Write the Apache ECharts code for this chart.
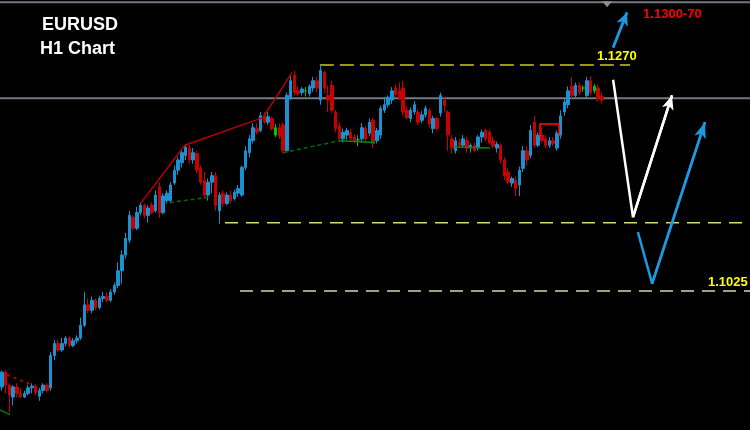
<!DOCTYPE html>
<html>
<head>
<meta charset="utf-8">
<script src="https://cdn.jsdelivr.net/npm/echarts@6/dist/echarts.min.js"></script>
<style>
html,body{margin:0;padding:0;background:#000;}
#c{width:750px;height:430px;}
</style>
</head>
<body>
<div id="c"></div>
<script>
// H1 candles: [open, close, low, high]
const candles = [
[1.0921,1.0937,1.0917,1.0939],[1.0937,1.0923,1.0914,1.0939],[1.0923,1.0912,1.0893,1.0925],[1.0910,1.0921,1.0901,1.0923],
[1.0921,1.0914,1.0910,1.0925],[1.0914,1.0910,1.0909,1.0920],[1.0910,1.0914,1.0909,1.0917],[1.0914,1.0920,1.0912,1.0923],
[1.0920,1.0922,1.0914,1.0925],[1.0922,1.0915,1.0912,1.0924],[1.0911,1.0917,1.0906,1.0920],[1.0917,1.0923,1.0914,1.0925],
[1.0923,1.0917,1.0915,1.0925],[1.0920,1.0955,1.0917,1.0959],[1.0955,1.0968,1.0950,1.0972],[1.0968,1.0961,1.0959,1.0972],
[1.0961,1.0968,1.0959,1.0974],[1.0968,1.0974,1.0965,1.0976],[1.0974,1.0966,1.0964,1.0976],[1.0966,1.0971,1.0964,1.0974],
[1.0971,1.0974,1.0968,1.0977],[1.0974,1.0988,1.0972,1.0996],[1.0988,1.1010,1.0986,1.1024],[1.1010,1.1004,1.1001,1.1017],
[1.1004,1.1015,1.1001,1.1019],[1.1015,1.1007,1.1004,1.1017],[1.1007,1.1017,1.1005,1.1020],[1.1017,1.1019,1.1013,1.1024],
[1.1019,1.1015,1.1013,1.1024],[1.1015,1.1024,1.1013,1.1027],[1.1024,1.1031,1.1021,1.1034],[1.1031,1.1047,1.1028,1.1056],
[1.1047,1.1064,1.1033,1.1069],[1.1064,1.1082,1.1060,1.1088],[1.1080,1.1107,1.1077,1.1112],[1.1105,1.1093,1.1090,1.1107],
[1.1093,1.1110,1.1091,1.1116],[1.1110,1.1118,1.1107,1.1121],[1.1118,1.1107,1.1104,1.1120],[1.1107,1.1115,1.1099,1.1118],
[1.1118,1.1110,1.1108,1.1121],[1.1112,1.1129,1.1110,1.1134],[1.1138,1.1110,1.1104,1.1143],[1.1110,1.1128,1.1108,1.1131],
[1.1123,1.1131,1.1120,1.1134],[1.1123,1.1140,1.1120,1.1143],[1.1142,1.1156,1.1140,1.1161],[1.1156,1.1167,1.1151,1.1170],
[1.1164,1.1175,1.1159,1.1179],[1.1172,1.1181,1.1167,1.1184],[1.1180,1.1167,1.1163,1.1183],[1.1167,1.1175,1.1163,1.1180],
[1.1174,1.1156,1.1153,1.1177],[1.1158,1.1143,1.1140,1.1161],[1.1145,1.1129,1.1125,1.1154],[1.1129,1.1143,1.1123,1.1147],
[1.1143,1.1150,1.1131,1.1154],[1.1150,1.1118,1.1112,1.1154],[1.1112,1.1129,1.1098,1.1132],[1.1131,1.1120,1.1116,1.1134],
[1.1120,1.1129,1.1118,1.1132],[1.1129,1.1123,1.1120,1.1134],[1.1125,1.1132,1.1123,1.1135],[1.1131,1.1136,1.1127,1.1140],
[1.1129,1.1159,1.1127,1.1161],[1.1159,1.1177,1.1156,1.1182],[1.1175,1.1190,1.1170,1.1194],[1.1188,1.1202,1.1185,1.1207],
[1.1201,1.1197,1.1195,1.1207],[1.1199,1.1215,1.1197,1.1219],[1.1215,1.1208,1.1206,1.1219],[1.1208,1.1214,1.1205,1.1219],
[1.1212,1.1201,1.1199,1.1214],[1.1194,1.1202,1.1192,1.1206],[1.1202,1.1193,1.1190,1.1207],[1.1205,1.1177,1.1174,1.1208],
[1.1177,1.1237,1.1175,1.1240],[1.1235,1.1253,1.1232,1.1258],[1.1259,1.1240,1.1237,1.1264],[1.1242,1.1239,1.1236,1.1247],
[1.1240,1.1244,1.1237,1.1246],[1.1242,1.1242,1.1236,1.1246],[1.1239,1.1247,1.1236,1.1249],[1.1245,1.1253,1.1241,1.1257],
[1.1253,1.1245,1.1240,1.1257],[1.1232,1.1264,1.1227,1.1270],[1.1262,1.1245,1.1239,1.1264],[1.1237,1.1232,1.1219,1.1248],
[1.1248,1.1221,1.1218,1.1253],[1.1219,1.1201,1.1197,1.1221],[1.1204,1.1190,1.1186,1.1208],[1.1190,1.1197,1.1186,1.1201],
[1.1194,1.1199,1.1189,1.1202],[1.1197,1.1190,1.1188,1.1201],[1.1192,1.1188,1.1185,1.1195],[1.1189,1.1189,1.1182,1.1194],
[1.1190,1.1202,1.1186,1.1207],[1.1201,1.1190,1.1186,1.1204],[1.1196,1.1208,1.1193,1.1212],[1.1210,1.1185,1.1180,1.1213],
[1.1188,1.1199,1.1185,1.1202],[1.1194,1.1223,1.1190,1.1226],[1.1221,1.1227,1.1218,1.1235],[1.1227,1.1235,1.1224,1.1237],
[1.1232,1.1242,1.1228,1.1246],[1.1245,1.1238,1.1235,1.1249],[1.1242,1.1234,1.1232,1.1251],[1.1245,1.1219,1.1215,1.1253],
[1.1221,1.1213,1.1211,1.1225],[1.1212,1.1221,1.1208,1.1224],[1.1219,1.1227,1.1216,1.1231],[1.1219,1.1208,1.1205,1.1222],
[1.1210,1.1216,1.1207,1.1220],[1.1216,1.1223,1.1213,1.1226],[1.1221,1.1206,1.1202,1.1223],[1.1201,1.1212,1.1196,1.1215],
[1.1212,1.1201,1.1199,1.1214],[1.1218,1.1237,1.1214,1.1240],[1.1232,1.1226,1.1219,1.1236],[1.1219,1.1194,1.1177,1.1221],
[1.1190,1.1180,1.1174,1.1194],[1.1177,1.1188,1.1174,1.1192],[1.1186,1.1183,1.1180,1.1190],[1.1183,1.1190,1.1180,1.1194],
[1.1188,1.1180,1.1175,1.1192],[1.1180,1.1183,1.1175,1.1185],[1.1183,1.1177,1.1175,1.1186],[1.1180,1.1192,1.1177,1.1194],
[1.1192,1.1197,1.1186,1.1200],[1.1199,1.1190,1.1187,1.1201],[1.1197,1.1186,1.1184,1.1200],[1.1188,1.1182,1.1180,1.1192],
[1.1180,1.1184,1.1175,1.1187],[1.1183,1.1167,1.1163,1.1185],[1.1167,1.1150,1.1145,1.1170],[1.1154,1.1143,1.1141,1.1158],
[1.1142,1.1147,1.1138,1.1149],[1.1145,1.1136,1.1128,1.1149],[1.1140,1.1156,1.1128,1.1160],[1.1158,1.1177,1.1154,1.1182],
[1.1177,1.1167,1.1161,1.1182],[1.1172,1.1199,1.1169,1.1205],[1.1208,1.1183,1.1180,1.1215],[1.1183,1.1194,1.1181,1.1197],
[1.1194,1.1188,1.1185,1.1202],[1.1190,1.1183,1.1180,1.1194],[1.1183,1.1188,1.1180,1.1192],[1.1188,1.1185,1.1182,1.1192],
[1.1180,1.1196,1.1177,1.1199],[1.1194,1.1215,1.1190,1.1221],[1.1219,1.1230,1.1215,1.1233],[1.1227,1.1242,1.1223,1.1247],
[1.1247,1.1237,1.1234,1.1257],[1.1237,1.1248,1.1235,1.1251],[1.1248,1.1240,1.1237,1.1251],[1.1245,1.1245,1.1241,1.1248],
[1.1237,1.1253,1.1234,1.1257],[1.1253,1.1240,1.1237,1.1258],[1.1242,1.1247,1.1239,1.1249],[1.1245,1.1234,1.1230,1.1249],
[1.1236,1.1232,1.1228,1.1240]
];
const greenCandles = [73, 81, 95, 155, 158];
const slotCount = 200;

// overlay polylines: [barIndex, price]
const redZigzag = [[37.0,1.1120],[48.8,1.1183],[69.6,1.1213],[77.4,1.1262]];
const redDotted = [[1.4,1.0934],[8.3,1.0923]];
const greenStart = [[-0.5,1.0896],[2.2,1.0891]];
const greenDashed1 = [[44.8,1.1121],[56.0,1.1127]];
const greenDashed2 = [[75.0,1.1175],[90.2,1.1188]];
const greenSolid1 = [[90.2,1.1188],[99.5,1.1186]];
const greenSolid2 = [[120.8,1.1181],[130.2,1.1180]];
const redBracket = [[143.5,1.1192],[143.5,1.1206],[148.6,1.1206],[148.6,1.1193]];

// horizontal levels
const bidLevel = 1.1234;
const topBorder = 1.1338;
const level1270 = {price: 1.1270, from: 84.8, to: 167.5};
const level1099 = {price: 1.1099, from: 59.5, to: 199.5};
const level1025 = {price: 1.1025, from: 63.5, to: 199.5};

// forecast arrows
const whiteArrow = [[163.0,1.1254],[168.3,1.1105],[178.7,1.1237]];
const blueArrow = [[169.6,1.1089],[173.4,1.1033],[187.5,1.1208]];
const blueSmallArrow = [[163.0,1.1289],[166.7,1.1327]];

// text labels: [barIndex, price, text, colour]
const priceLabels = [
  [164.0, 1.1279, '1.1270', '#ffff00'],
  [193.6, 1.1034, '1.1025', '#ffff00'],
  [178.8, 1.1325, '1.1300-70', '#ff0000']
];
const shiftMarker = [161.4, 1.1336];

const BLUE = '#1a92d2', RED = '#c80000', GREEN = '#00c800';
const FONT = '"Liberation Sans", Arial, sans-serif';

const candleData = candles.map((c, i) => {
  if (greenCandles.includes(i)) {
    return {value: c, itemStyle: {color: GREEN, color0: GREEN, borderColor: GREEN, borderColor0: GREEN}};
  }
  return c;
});

function poly(data, color, width, type, z) {
  return {type: 'line', xAxisIndex: 1, yAxisIndex: 0, data: data, symbol: 'none', silent: true,
    lineStyle: {color: color, width: width, type: type || 'solid'}, z: z || 3, animation: false};
}
function hline(lv, color, width, dash) {
  return poly([[lv.from, lv.price],[lv.to, lv.price]], color, width, dash, 2);
}
function arrow(pts, color, width, head) {
  const s = poly(pts, color, width, 'solid', 5);
  const n = pts.length;
  s.markLine = {
    silent: true, animation: false,
    label: {show: false},
    lineStyle: {color: color, width: width, type: 'solid'},
    symbol: ['none', 'arrow'], symbolSize: head,
    data: [[{coord: pts[n-2]}, {coord: pts[n-1]}]]
  };
  return s;
}

const series = [
  {type: 'candlestick', xAxisIndex: 0, yAxisIndex: 0, data: candleData, barWidth: 3,
   itemStyle: {color: BLUE, color0: RED, borderColor: BLUE, borderColor0: RED, borderWidth: 1}, z: 4},
  poly([[-0.5, bidLevel],[199.5, bidLevel]], '#737a84', 2, 'solid', 1),
  poly([[-0.5, topBorder],[199.5, topBorder]], '#737a84', 2, 'solid', 1),
  hline(level1270, '#9a9a10', 2, [14, 6]),
  hline(level1099, '#d8d870', 1.5, [13, 8]),
  hline(level1025, '#d8d8a0', 1.5, [13, 8]),
  poly(redZigzag, '#b80000', 1.5, 'solid', 6),
  poly(redDotted, '#b00000', 2, [3, 4], 6),
  poly(greenStart, '#007a00', 1.5, 'solid', 6),
  poly(greenDashed1, '#006e00', 1.5, [4, 3], 6),
  poly(greenDashed2, '#006e00', 1.5, [4, 3], 6),
  poly(greenSolid1, '#008a00', 1.5, 'solid', 6),
  poly(greenSolid2, '#008a00', 1.5, 'solid', 6),
  poly(redBracket, '#ff1010', 1.5, 'solid', 6),
  arrow(whiteArrow, '#ffffff', 2.5, [9, 14]),
  arrow(blueArrow, '#1a9ae0', 2.5, [9, 16]),
  arrow(blueSmallArrow, '#1a9ae0', 2.5, [9, 13]),
  {type: 'scatter', xAxisIndex: 1, yAxisIndex: 0, silent: true, z: 8,
   data: [{value: shiftMarker}], symbol: 'triangle', symbolRotate: 180, symbolSize: [10, 6],
   itemStyle: {color: '#8a8f96', opacity: 1}},
  {type: 'scatter', xAxisIndex: 1, yAxisIndex: 0, silent: true, z: 9, symbolSize: 0,
   itemStyle: {opacity: 1},
   data: priceLabels.map(l => ({value: [l[0], l[1]], label: {show: true, position: 'inside', formatter: l[2],
     color: l[3], opacity: 1, fontSize: 13, fontWeight: 'bold', fontFamily: FONT}}))}
];

const chart = echarts.init(document.getElementById('c'), null, {renderer: 'canvas'});
chart.setOption({
  backgroundColor: '#000000',
  animation: false,
  title: [
    {text: 'EURUSD', left: 42, top: 16, padding: 0,
     textStyle: {color: '#ffffff', fontSize: 18, fontWeight: 'bold', fontFamily: FONT}},
    {text: 'H1 Chart', left: 40, top: 40, padding: 0,
     textStyle: {color: '#ffffff', fontSize: 18, fontWeight: 'bold', fontFamily: FONT}}
  ],
  grid: {left: 0, right: 0, top: 0, bottom: 0, containLabel: false},
  xAxis: [
    {type: 'category', data: Array.from({length: slotCount}, (_, i) => i), boundaryGap: true, show: false},
    {type: 'value', min: -0.5, max: slotCount - 0.5, show: false}
  ],
  yAxis: [{type: 'value', min: 1.08743, max: 1.13405, show: false, scale: true}],
  series: series
});
</script>
</body>
</html>
